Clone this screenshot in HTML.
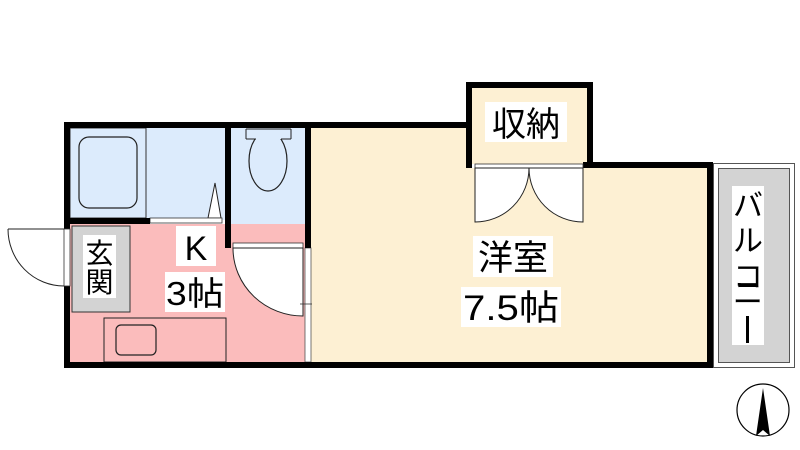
<!DOCTYPE html>
<html><head><meta charset="utf-8"><style>
html,body{margin:0;padding:0;background:#fff;}
svg{display:block;}
text{font-family:"Liberation Sans","Noto Sans CJK JP",sans-serif;fill:#000;}
</style></head><body>
<svg width="800" height="450" viewBox="0 0 800 450" xmlns="http://www.w3.org/2000/svg">
<!-- fills -->
<rect x="70" y="128" width="155" height="92" fill="#dcebfc"/>
<rect x="231" y="128" width="74" height="115" fill="#dcebfc"/>
<rect x="70" y="224" width="235" height="138" fill="#fbbcbc"/>
<polygon points="311,128 466,128 466,168 707,168 707,362 311,362" fill="#fdf0d3"/>
<rect x="472" y="88" width="115" height="76" fill="#fdf0d3"/>
<rect x="72" y="226" width="58" height="86" fill="#d3d3d3" stroke="#333" stroke-width="1"/>
<!-- tub -->
<rect x="70" y="128" width="76" height="90" fill="none" stroke="#333" stroke-width="1"/>
<rect x="79" y="137" width="58" height="71" rx="10" fill="none" stroke="#222" stroke-width="1.2"/>
<!-- bath door triangle -->
<polygon points="215,183 208,218 221,218" fill="#fff" stroke="#222" stroke-width="1"/>
<rect x="150" y="218" width="72" height="5" fill="#fff" stroke="#333" stroke-width="0.8"/>
<!-- toilet -->
<ellipse cx="268" cy="161" rx="19" ry="30" fill="#dcebfc" stroke="#222" stroke-width="1.2"/>
<rect x="246" y="129" width="45" height="10" fill="#dcebfc" stroke="none"/>
<line x1="246" y1="129" x2="291" y2="129" stroke="#222"/>
<line x1="246" y1="129" x2="246" y2="139" stroke="#222"/>
<line x1="291" y1="129" x2="291" y2="139" stroke="#222"/>
<line x1="246" y1="139" x2="256" y2="139" stroke="#222"/>
<line x1="281" y1="139" x2="291" y2="139" stroke="#222"/>
<!-- toilet door -->
<rect x="233" y="243" width="70" height="5" fill="#fff" stroke="#333" stroke-width="0.8"/>
<path d="M233,248 L233,249 A70,68 0 0 0 303,316 L303,248 Z" fill="#fff" stroke="#222" stroke-width="1"/>
<rect x="305" y="248" width="6" height="114" fill="#fff" stroke="#555" stroke-width="0.8"/>
<line x1="300" y1="304" x2="312" y2="304" stroke="#333" stroke-width="0.8"/>
<!-- kitchen -->
<rect x="104" y="318" width="122" height="44" fill="#fbbcbc" stroke="#222" stroke-width="1"/>
<rect x="116" y="325" width="40" height="30" rx="5" fill="#fbbcbc" stroke="#222" stroke-width="1.2"/>
<!-- walls -->
<g fill="#000">
<rect x="64" y="122" width="407" height="6"/>
<rect x="64" y="122" width="6" height="107"/>
<rect x="64" y="286" width="6" height="82"/>
<rect x="64" y="362" width="649" height="6"/>
<rect x="70" y="218" width="80" height="6"/>
<rect x="225" y="122" width="6" height="126"/>
<rect x="305" y="122" width="6" height="126"/>
<rect x="466" y="82" width="127" height="6"/>
<rect x="466" y="82" width="6" height="86"/>
<rect x="587" y="82" width="6" height="86"/>
<rect x="583" y="162" width="130" height="6"/>
<rect x="707" y="162" width="6" height="206"/>
</g>
<!-- entrance door -->
<rect x="64" y="229" width="6" height="57" fill="#fff" stroke="#333" stroke-width="0.8"/>
<line x1="8" y1="229" x2="64" y2="229" stroke="#222" stroke-width="1"/>
<path d="M8,229 A56,57 0 0 0 64,286" fill="none" stroke="#222" stroke-width="1"/>
<!-- closet doors -->
<rect x="475" y="164" width="108" height="4" fill="#fff" stroke="#333" stroke-width="0.8"/>
<path d="M475,168 L475,222 A54,54 0 0 0 529,168 Z" fill="#fff" stroke="#222" stroke-width="1"/>
<path d="M583,168 L583,222 A54,54 0 0 1 529,168 Z" fill="#fff" stroke="#222" stroke-width="1"/>
<!-- balcony -->
<rect x="713.5" y="163.5" width="81" height="204" fill="#fff" stroke="#555" stroke-width="1"/>
<rect x="718.5" y="168.5" width="71" height="194" fill="#d3d3d3" stroke="#555" stroke-width="1"/>
<rect x="732" y="186" width="32" height="159" fill="#fff"/>
<text x="748" y="216" font-size="30" text-anchor="middle">バ</text>
<text x="748" y="251" font-size="30" text-anchor="middle">ル</text>
<text x="748" y="287" font-size="30" text-anchor="middle">コ</text>
<text x="748" y="304" font-size="30" text-anchor="middle">ニ</text>
<rect x="746" y="316" width="3" height="27" fill="#000"/>
<!-- labels -->
<rect x="485" y="102" width="82" height="40" fill="#fff"/>
<text x="526" y="136" font-size="34" text-anchor="middle">収納</text>
<rect x="473" y="236" width="80" height="41" fill="#fff"/>
<text x="513" y="270" font-size="35" text-anchor="middle">洋室</text>
<rect x="461" y="287" width="100" height="40" fill="#fff"/>
<text x="511" y="320" font-size="35" text-anchor="middle" textLength="96" lengthAdjust="spacingAndGlyphs">7.5帖</text>
<rect x="176" y="226" width="40" height="40" fill="#fff"/>
<text x="196" y="260" font-size="34" text-anchor="middle">K</text>
<rect x="165" y="272" width="60" height="40" fill="#fff"/>
<text x="195" y="305" font-size="33" text-anchor="middle" textLength="58" lengthAdjust="spacingAndGlyphs">3帖</text>
<rect x="83" y="235" width="33" height="63" fill="#fff"/>
<text x="99.5" y="263" font-size="28" text-anchor="middle">玄</text>
<text x="99.5" y="292" font-size="28" text-anchor="middle">関</text>
<!-- compass -->
<circle cx="763" cy="410" r="26" fill="#fff" stroke="#000" stroke-width="1.2"/>
<polygon points="763,388 756,436 763,430 770,436" fill="#000"/>
</svg>
</body></html>
